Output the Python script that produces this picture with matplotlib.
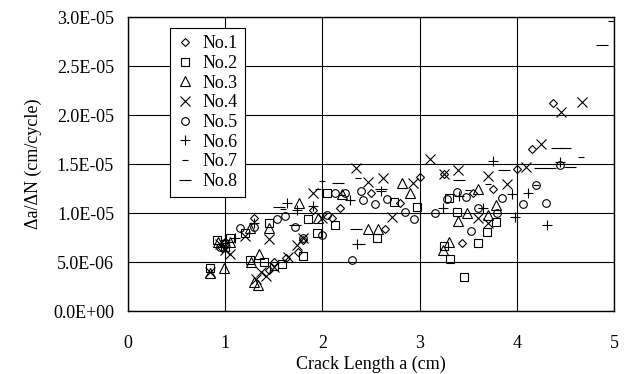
import numpy as np
import matplotlib
matplotlib.use('Agg')
import matplotlib.pyplot as plt

plt.rcParams['font.family'] = ['Liberation Serif', 'DejaVu Serif']

# crack length a (cm) and da/dN (in 1e-6 cm/cycle)
no1_a = [0.97, 1.0, 1.3, 1.45, 1.5, 1.62, 1.75, 1.8, 1.9, 2.1, 2.18, 2.5, 2.64, 2.8, 3.0, 3.25, 3.44, 3.55, 3.75, 4.0, 4.16, 4.37]
no1_r = [6.4, 7.0, 9.5, 4.2, 5.0, 5.4, 6.0, 7.2, 10.3, 9.5, 10.5, 12.0, 8.4, 11.0, 13.7, 14.0, 6.9, 12.0, 12.5, 14.5, 16.5, 21.2]

no2_a = [0.84, 0.92, 1.0, 1.05, 1.2, 1.25, 1.4, 1.45, 1.5, 1.58, 1.8, 1.85, 1.94, 2.05, 2.13, 2.56, 2.74, 2.97, 3.25, 3.3, 3.31, 3.38, 3.46, 3.6, 3.69, 3.78]
no2_r = [4.4, 7.2, 6.5, 7.4, 8.0, 5.2, 5.0, 9.0, 4.6, 4.8, 5.6, 9.4, 8.0, 12.0, 8.8, 7.4, 11.1, 10.6, 6.6, 11.5, 5.3, 10.1, 3.5, 6.9, 8.1, 9.1]

no3_a = [0.84, 0.93, 0.99, 1.05, 1.25, 1.27, 1.3, 1.34, 1.35, 1.45, 1.76, 1.95, 2.2, 2.47, 2.57, 2.82, 2.9, 3.24, 3.3, 3.39, 3.49, 3.6, 3.7, 3.78]
no3_r = [3.9, 7.0, 4.4, 7.0, 8.5, 5.0, 3.0, 2.7, 5.8, 8.5, 11.0, 9.5, 11.9, 8.4, 8.4, 13.1, 12.0, 6.2, 7.0, 9.2, 10.0, 12.5, 9.8, 10.8]

no4_a = [0.84, 0.95, 1.0, 1.05, 1.2, 1.32, 1.37, 1.42, 1.45, 1.5, 1.65, 1.74, 1.8, 1.9, 2.0, 2.34, 2.47, 2.62, 2.72, 2.93, 3.11, 3.25, 3.39, 3.6, 3.7, 3.7, 3.9, 4.09, 4.25, 4.45, 4.67]
no4_r = [4.0, 6.8, 6.2, 5.8, 7.7, 3.3, 4.0, 3.6, 7.3, 4.5, 5.5, 6.7, 7.5, 12.0, 9.5, 14.6, 13.2, 13.6, 9.6, 13.1, 15.5, 14.0, 14.4, 9.5, 9.0, 13.8, 13.0, 14.7, 17.0, 20.3, 21.3]

no5_a = [0.95, 1.0, 1.15, 1.3, 1.53, 1.61, 1.72, 1.8, 2.0, 2.05, 2.13, 2.23, 2.3, 2.4, 2.42, 2.54, 2.66, 2.85, 2.94, 3.16, 3.28, 3.38, 3.48, 3.53, 3.6, 3.8, 3.85, 4.06, 4.2, 4.3, 4.44]
no5_r = [6.5, 6.9, 8.5, 8.6, 9.4, 9.7, 8.6, 7.5, 7.8, 9.8, 12.0, 12.0, 5.2, 12.2, 11.3, 10.9, 11.4, 10.1, 9.4, 10.0, 11.4, 12.1, 11.6, 8.2, 10.5, 10.0, 11.5, 10.9, 12.9, 11.0, 14.9]

no6_a = [1.0, 1.1, 1.3, 1.64, 1.74, 1.9, 2.28, 2.36, 2.6, 3.24, 3.4, 3.65, 3.75, 3.95, 3.98, 4.11, 4.31, 4.44]
no6_r = [7.2, 7.5, 9.0, 11.0, 10.3, 10.7, 11.3, 6.8, 12.2, 10.5, 11.7, 10.5, 15.3, 11.9, 9.6, 12.0, 8.8, 15.2]

no7_a = [1.59, 1.95, 2.0, 2.2, 2.37, 2.41, 3.5, 3.7, 4.2, 4.66, 4.97]
no7_r = [10.4, 12.5, 13.3, 11.8, 13.6, 6.8, 12.3, 13.0, 12.9, 15.7, 29.6]

no8_a = [1.55, 1.72, 2.16, 2.35, 2.6, 3.4, 3.87, 4.24, 4.34, 4.41, 4.5, 4.55, 4.88]
no8_r = [10.6, 8.8, 13.1, 8.4, 12.4, 13.4, 14.4, 14.6, 14.6, 16.6, 16.6, 14.7, 27.1]

series = [
    (no1_a, no1_r, 'D', 4.5, 'No.1'),
    (no2_a, no2_r, 's', 5.5, 'No.2'),
    (no3_a, no3_r, '^', 6.5, 'No.3'),
    (no4_a, no4_r, 'x', 6.5, 'No.4'),
    (no5_a, no5_r, 'o', 5.5, 'No.5'),
    (no6_a, no6_r, '+', 6.5, 'No.6'),
    (no7_a, no7_r, '_', 4, 'No.7'),
    (no8_a, no8_r, '_', 8, 'No.8'),
]

fig = plt.figure(figsize=(6.26, 3.74), dpi=100)
ax = fig.add_axes([0.2045, 0.1684, 0.7765, 0.7861])

for a, r, m, ms, lab in series:
    ax.plot(a, np.array(r) * 1e-6, linestyle='none', marker=m, markersize=ms,
            markerfacecolor='none', markeredgecolor='black', markeredgewidth=0.8,
            label=lab)

ax.set_xlim(0, 5)
ax.set_ylim(0, 3.0e-5)
ax.set_xticks([0, 1, 2, 3, 4, 5])
ax.set_yticks(np.arange(0, 3.01e-5, 5e-6))
ax.set_yticklabels(['0.0E+00', '5.0E-06', '1.0E-05', '1.5E-05', '2.0E-05', '2.5E-05', '3.0E-05'])
ax.tick_params(length=0, labelsize=13)
ax.tick_params(axis='x', pad=17)
ax.tick_params(axis='y', pad=10)
ax.grid(True, color='black', linewidth=0.8)
for s in ax.spines.values():
    s.set_linewidth(1.0)

ax.set_xlabel('Crack Length a (cm)', fontsize=13, labelpad=3)
ax.set_ylabel('Δa/ΔN (cm/cycle)', fontsize=13, labelpad=8)

leg = ax.legend(loc='upper left', bbox_to_anchor=(0.086, 0.963), fontsize=13,
                frameon=True, fancybox=False, framealpha=1, edgecolor='black',
                handlelength=0.9, handletextpad=0.5, labelspacing=0.15,
                borderpad=0.4, borderaxespad=0)
leg.get_frame().set_linewidth(0.8)

fig.savefig('out.png', dpi=100)
